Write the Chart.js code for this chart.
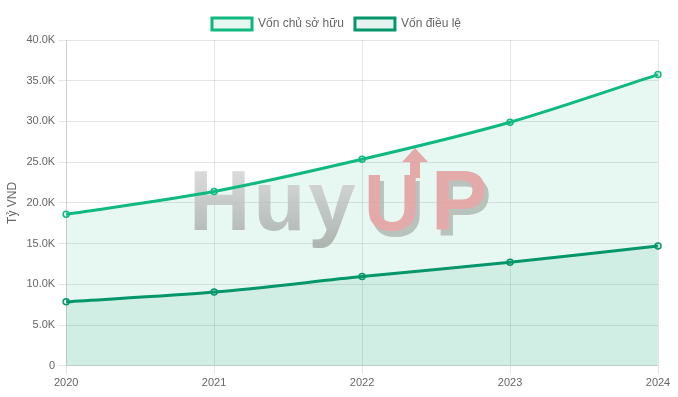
<!DOCTYPE html>
<html>
<head>
<meta charset="utf-8">
<script src="https://cdn.jsdelivr.net/npm/chart.js@4"></script>
<style>
  html, body { margin: 0; padding: 0; background: #fff; }
  #wrap { width: 678px; height: 397px; }
</style>
</head>
<body>
<div id="wrap"><canvas id="capitalChart"></canvas></div>
<script>
// Data (tỷ VND)
const years = ["2020", "2021", "2022", "2023", "2024"];
const vonChuSoHuu = [18600, 21400, 25350, 29900, 35750];
const vonDieuLe = [7850, 9050, 10950, 12700, 14700];

Chart.defaults.font.family = "'Liberation Sans', Arial, sans-serif";
Chart.defaults.font.size = 11;
Chart.defaults.color = "#666";

// Build the "HuyUP" watermark on its own canvas, then blend it in
function buildWatermark(w, h) {
    const off = document.createElement("canvas");
    off.width = w;
    off.height = h;
    const c = off.getContext("2d");
    c.font = "bold 85px 'Liberation Sans', Arial, sans-serif";
    c.textBaseline = "alphabetic";
    const y = 230;

    c.letterSpacing = "3px";
    const g = c.createLinearGradient(0, 168, 0, 250);
    g.addColorStop(0, "#d6d6d6");
    g.addColorStop(1, "#a2a9a5");
    c.fillStyle = g;
    c.fillText("Huy", 189, y);
    c.letterSpacing = "0px";

    const drawUP = (dx, dy) => {
        c.save();
        c.translate(364 + dx, y + dy);
        c.scale(0.92, 0.94);
        c.fillText("U", 0, 0);
        c.restore();
        c.fillText("P", 431 + dx, y + dy);
    };
    c.fillStyle = "#b1bab6";
    drawUP(4, 6);
    c.fillStyle = "#e49d9d";
    drawUP(0, 0);

    // arrow on top of the U
    c.beginPath();
    c.moveTo(415, 148);
    c.lineTo(428, 162);
    c.lineTo(420, 162);
    c.lineTo(420, 178);
    c.lineTo(410, 178);
    c.lineTo(410, 162);
    c.lineTo(402, 162);
    c.closePath();
    c.fill();
    return off;
}

const watermark = {
    id: "watermark",
    afterUpdate(chart) {
        // nudge the legend a little to the right
        const lg = chart.legend;
        lg.left += 7;
        lg.right += 7;
        lg.adjustHitBoxes();
    },
    beforeDatasetsDraw(chart) {
        const c = chart.ctx;
        c.save();
        c.globalAlpha = 0.85;
        c.drawImage(buildWatermark(chart.width, chart.height), 0, 0);
        c.restore();
    }
};

const ctx = document.getElementById("capitalChart").getContext("2d");

new Chart(ctx, {
    type: "line",
    data: {
        labels: years,
        datasets: [
            {
                label: "Vốn chủ sở hữu",
                data: vonChuSoHuu,
                borderColor: "#10b981",
                backgroundColor: "rgba(16, 185, 129, 0.1)",
                borderWidth: 3,
                fill: "origin",
                tension: 0.3,
                pointRadius: 3,
                pointBorderWidth: 1.5,
                pointBackgroundColor: "rgba(16, 185, 129, 0.1)",
            },
            {
                label: "Vốn điều lệ",
                data: vonDieuLe,
                borderColor: "#059669",
                backgroundColor: "rgba(5, 150, 105, 0.1)",
                borderWidth: 3,
                fill: "origin",
                tension: 0.3,
                pointRadius: 3,
                pointBorderWidth: 1.5,
                pointBackgroundColor: "rgba(5, 150, 105, 0.1)",
            },
        ],
    },
    options: {
        responsive: true,
        maintainAspectRatio: false,
        animation: false,
        layout: { padding: { left: 1, right: 20, top: 7, bottom: 4 } },
        scales: {
            x: {
                offset: false,
                grid: { color: "rgba(0, 0, 0, 0.1)" },
                ticks: { color: "#666" },
            },
            y: {
                min: 0,
                max: 40000,
                ticks: {
                    stepSize: 5000,
                    callback: (v) => (v === 0 ? "0" : (v / 1000).toFixed(1) + "K"),
                },
                grid: { color: "rgba(0, 0, 0, 0.1)" },
                title: { display: true, text: "Tỷ VND", color: "#666", font: { size: 12 } },
            },
        },
        plugins: {
            filler: { drawTime: "beforeDatasetsDraw" },
            legend: {
                labels: { boxWidth: 40, boxHeight: 12, padding: 11, color: "#666", font: { size: 12 } },
            },
        },
    },
    plugins: [watermark],
});
</script>
</body>
</html>
